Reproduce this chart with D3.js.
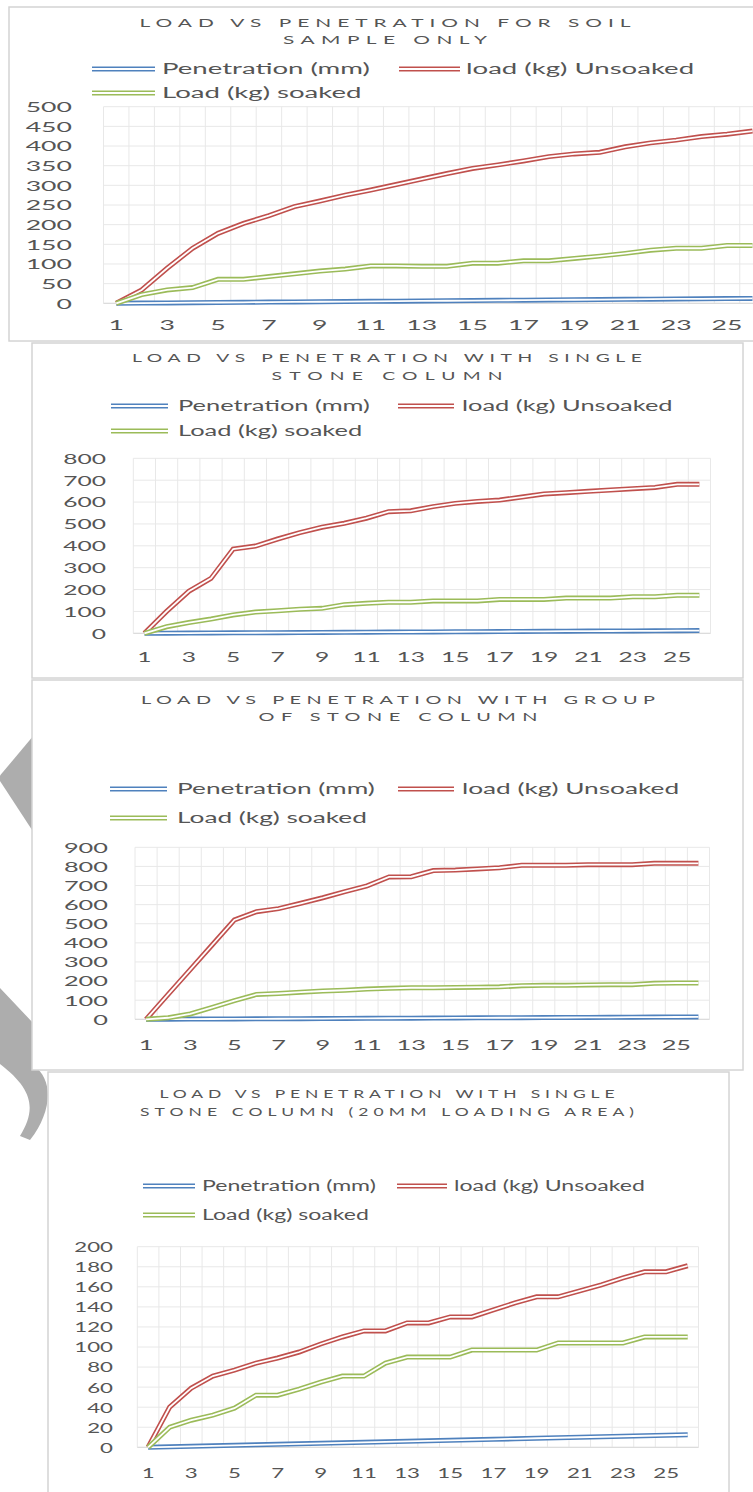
<!DOCTYPE html>
<html>
<head>
<meta charset="utf-8">
<script src="https://cdn.jsdelivr.net/npm/d3@7/dist/d3.min.js"></script>
<style>
  html, body { margin: 0; padding: 0; background: #ffffff; }
  svg { display: block; }
  text { font-family: Lato, "Open Sans", sans-serif; fill: #555555; }
</style>
</head>
<body>
<svg id="page" width="753" height="1492"></svg>
<script>
// ---- data ----------------------------------------------------------------
const categories = [1, 2, 3, 4, 5, 6, 7, 8, 9, 10, 11, 12, 13, 14, 15, 16, 17, 18, 19, 20, 21, 22, 23, 24, 25, 26];
const xTickLabels = [1, 3, 5, 7, 9, 11, 13, 15, 17, 19, 21, 23, 25];
const seriesNames = ["Penetration (mm)", "load (kg) Unsoaked", "Load (kg) soaked"];
const seriesColors = ["#4F81BD", "#C0504D", "#9BBB59"];

const penetrationMm = [0, 0.5, 1, 1.5, 2, 2.5, 3, 3.5, 4, 4.5, 5, 5.5, 6, 6.5, 7, 7.5, 8, 8.5, 9, 9.5, 10, 10.5, 11, 11.5, 12, 12.5];

// soil sample only
const soilUnsoaked = [0, 34, 89, 140, 178, 203, 223, 246, 260, 275, 288, 302, 316, 330, 343, 352, 362, 373, 380, 384, 398, 408, 415, 424, 430, 438];
const soilSoaked = [0, 22, 34, 40, 61, 61, 68, 75, 82, 87, 95, 95, 94, 94, 102, 102, 108, 108, 114, 120, 127, 135, 140, 140, 147, 147];
// single stone column
const singleUnsoaked = [0, 100, 192, 251, 385, 399, 431, 460, 485, 503, 526, 556, 560, 579, 594, 603, 609, 623, 637, 643, 649, 655, 661, 667, 681, 681];
const singleSoaked = [0, 30, 49, 65, 84, 97, 103, 110, 114, 131, 137, 142, 142, 148, 148, 148, 155, 155, 155, 161, 161, 161, 167, 167, 174, 174];
// group of stone columns
const groupUnsoaked = [0, 130, 260, 390, 520, 563, 579, 607, 636, 668, 698, 745, 746, 778, 781, 787, 793, 806, 806, 806, 809, 809, 809, 816, 816, 816];
const groupSoaked = [0, 8, 28, 62, 98, 130, 135, 142, 148, 152, 158, 162, 165, 165, 167, 168, 170, 176, 178, 178, 180, 181, 181, 188, 190, 190];
// single stone column, 20 mm loading area
const areaUnsoaked = [0, 40, 59, 71, 77, 84, 89, 95, 103, 110, 116, 116, 124, 124, 130, 130, 137, 144, 150, 150, 156, 162, 169, 175, 175, 181];
const areaSoaked = [0, 20, 27, 32, 39, 52, 52, 58, 65, 71, 71, 84, 90, 90, 90, 97, 97, 97, 97, 104, 104, 104, 104, 110, 110, 110];

const soilTicks = [0, 50, 100, 150, 200, 250, 300, 350, 400, 450, 500];
const singleTicks = [0, 100, 200, 300, 400, 500, 600, 700, 800];
const groupTicks = [0, 100, 200, 300, 400, 500, 600, 700, 800, 900];
const areaTicks = [0, 20, 40, 60, 80, 100, 120, 140, 160, 180, 200];

const soilTitle = ["LOAD VS PENETRATION FOR SOIL", "SAMPLE ONLY"];
const singleTitle = ["LOAD VS PENETRATION WITH SINGLE", "STONE COLUMN"];
const groupTitle = ["LOAD VS PENETRATION WITH GROUP", "OF STONE COLUMN"];
const areaTitle = ["LOAD VS PENETRATION WITH SINGLE", "STONE COLUMN (20MM LOADING AREA)"];

// ---- layout of the four panels -------------------------------------------
const panels = [
  { title: soilTitle, series: [penetrationMm, soilUnsoaked, soilSoaked], ticks: soilTicks,
    box: [9, 7, 790, 341], plot: { left: 103.5, right: 765.2, top: 106.7, bottom: 303.3 },
    yLabelRight: 72, xLabelY: 325, titleCx: 385, titleY: [23, 40], titleW: [491, 204],
    legendRows: [69, 93], legendPos: [[92, 155, 162], [399, 460, 466], [92, 155, 162]], legendW: 208 },
  { title: singleTitle, series: [penetrationMm, singleUnsoaked, singleSoaked], ticks: singleTicks,
    box: [32, 343, 743, 678], plot: { left: 133.3, right: 710.5, top: 458.3, bottom: 633.3 },
    yLabelRight: 106, xLabelY: 657, titleCx: 387, titleY: [358, 376], titleW: [510, 231],
    legendRows: [406, 431], legendPos: [[111, 168, 178], [398, 454, 462], [111, 168, 178]], legendW: 192 },
  { title: groupTitle, series: [penetrationMm, groupUnsoaked, groupSoaked], ticks: groupTicks,
    box: [32, 680, 743, 1070], plot: { left: 135, right: 709.5, top: 847.3, bottom: 1019.3 },
    yLabelRight: 108, xLabelY: 1045, titleCx: 398, titleY: [700, 717], titleW: [514, 279],
    legendRows: [789, 818], legendPos: [[110, 167, 177], [398, 454, 462], [110, 167, 177]], legendW: 198 },
  { title: areaTitle, series: [penetrationMm, areaUnsoaked, areaSoaked], ticks: areaTicks,
    box: [48, 1072, 729, 1530], plot: { left: 137.3, right: 698.5, top: 1246.7, bottom: 1447.3 },
    yLabelRight: 113, xLabelY: 1473, titleCx: 387, titleY: [1094, 1112], titleW: [455, 494],
    legendRows: [1186, 1215], legendPos: [[143, 195, 202], [397, 447, 454], [143, 195, 202]], legendW: 174 }
];

const svg = d3.select("#page");

// grey logo fragment in the left margin, partly hidden by the panels
const mark = svg.append("g").attr("fill", "#ADADAD");
mark.append("path").attr("d", "M34,735 L-2,778 L34,833 Z");
mark.append("path").attr("d", "M0,988 L34,1024 L34,1066 C54,1080 52,1112 30,1140 L20,1136 C36,1110 34,1090 0,1064 Z");

const LEGEND_FONT = 14.5, AXIS_FONT = 14, TITLE_FONT = 11;

function doubleStroke(sel, color) {
  sel.append("path").attr("class", "outer").attr("fill", "none")
    .attr("stroke", color).attr("stroke-width", 5);
  sel.append("path").attr("class", "inner").attr("fill", "none")
    .attr("stroke", "#ffffff").attr("stroke-width", 1.8);
}

panels.forEach(p => {
  const g = svg.append("g");
  const [bx0, by0, bx1, by1] = p.box;
  g.append("rect").attr("x", bx0).attr("y", by0)
    .attr("width", bx1 - bx0).attr("height", by1 - by0)
    .attr("fill", "#ffffff").attr("stroke", "#D4D4D4").attr("stroke-width", 1.5);

  // horizontal stretch of the lettering in this panel
  const probe = g.append("text").style("font-size", LEGEND_FONT + "px").text(seriesNames[0]);
  const sx = p.legendW / probe.node().getComputedTextLength();
  probe.remove();

  const x = d3.scaleBand().domain(categories).range([p.plot.left, p.plot.right]);
  const y = d3.scaleLinear().domain([0, d3.max(p.ticks)]).range([p.plot.bottom, p.plot.top]);

  // title
  p.title.forEach((line, i) => {
    g.append("text")
      .attr("transform", `translate(${p.titleCx},${p.titleY[i]}) scale(${sx},1)`)
      .attr("text-anchor", "middle").attr("dy", "0.35em")
      .attr("textLength", p.titleW[i] / sx).attr("lengthAdjust", "spacing")
      .style("font-size", TITLE_FONT + "px")
      .text(line);
  });

  // legend
  seriesNames.forEach((name, i) => {
    const [s0, s1, tx] = p.legendPos[i];
    const ry = p.legendRows[i < 2 ? 0 : 1];
    const item = g.append("g");
    doubleStroke(item, seriesColors[i]);
    item.selectAll("path").attr("d", `M${s0},${ry}H${s1}`);
    item.append("text")
      .attr("transform", `translate(${tx},${ry}) scale(${sx},1)`)
      .attr("dy", "0.35em").style("font-size", LEGEND_FONT + "px")
      .text(name);
  });

  // gridlines
  const grid = g.append("g").attr("stroke", "#E8E8E8").attr("stroke-width", 1);
  p.ticks.forEach(t => {
    grid.append("line").attr("x1", p.plot.left).attr("x2", p.plot.right)
      .attr("y1", y(t)).attr("y2", y(t));
  });
  categories.forEach(c => {
    grid.append("line").attr("x1", x(c)).attr("x2", x(c))
      .attr("y1", p.plot.top).attr("y2", p.plot.bottom);
  });
  grid.append("line").attr("x1", p.plot.right).attr("x2", p.plot.right)
    .attr("y1", p.plot.top).attr("y2", p.plot.bottom);
  g.append("line").attr("x1", p.plot.left).attr("x2", p.plot.right)
    .attr("y1", y(0)).attr("y2", y(0)).attr("stroke", "#D9D9D9");

  // y axis labels
  const yAxis = g.append("g").attr("transform", `translate(${p.plot.left},0)`)
    .call(d3.axisLeft(y).tickValues(p.ticks).tickSize(0).tickPadding(0));
  yAxis.select(".domain").remove();
  yAxis.selectAll("text")
    .attr("x", 0).attr("dy", "0.35em")
    .attr("transform", `translate(${p.yLabelRight - p.plot.left},0) scale(${sx},1)`)
    .attr("fill", null).style("font-size", AXIS_FONT + "px");

  // x axis labels
  const xAxis = g.append("g").attr("transform", `translate(0,${p.xLabelY})`)
    .call(d3.axisBottom(x).tickValues(xTickLabels).tickSize(0).tickPadding(0));
  xAxis.select(".domain").remove();
  xAxis.selectAll("text")
    .attr("y", 0).attr("dy", "0.35em")
    .attr("transform", `scale(${sx},1)`)
    .attr("fill", null).style("font-size", AXIS_FONT + "px");
  yAxis.attr("font-family", null).attr("font-size", null);
  xAxis.attr("font-family", null).attr("font-size", null);

  // series
  const line = d3.line()
    .x((d, i) => x(categories[i]) + x.bandwidth() / 2)
    .y(d => y(d));
  p.series.forEach((vals, i) => {
    const s = g.append("g");
    doubleStroke(s, seriesColors[i]);
    s.selectAll("path").datum(vals).attr("d", line);
  });
});
</script>
</body>
</html>
